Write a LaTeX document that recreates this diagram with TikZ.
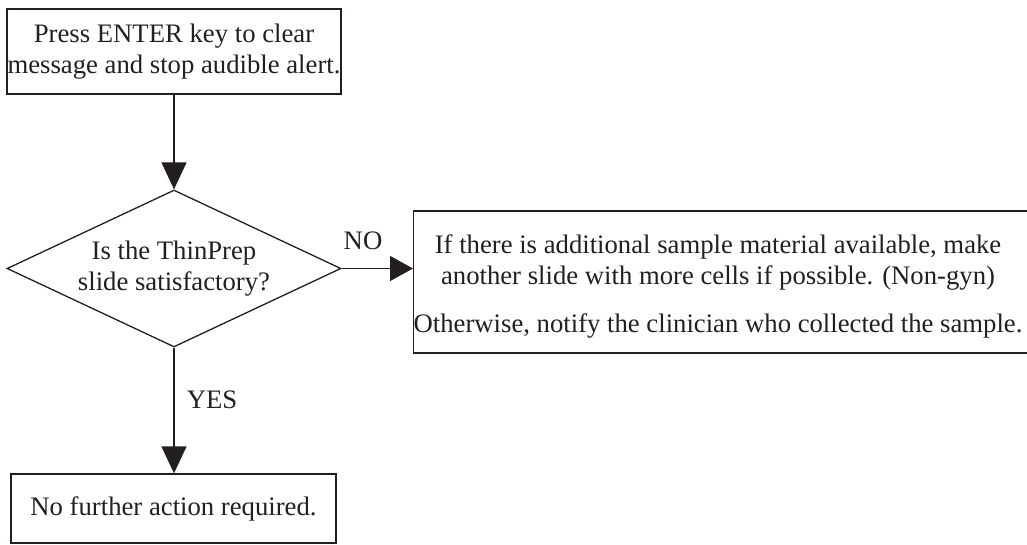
\documentclass[tikz,border=0pt]{standalone}
\usepackage{fontspec}
\setmainfont{Liberation Serif}
\usetikzlibrary{shapes.geometric,arrows.meta}
\definecolor{ink}{HTML}{231F20}
\begin{document}
\begin{tikzpicture}[x=1pt,y=1pt,
  every node/.style={font=\fontsize{26.7}{31}\selectfont, text=ink},
  box/.style={draw=ink, line width=1.3pt, rectangle, inner sep=0pt, align=center},
  decide/.style={draw=ink, line width=1.3pt, diamond, aspect=2.13, inner sep=0pt, align=center,
     minimum width=334pt, minimum height=157pt},
  vflow/.style={draw=ink, line width=1.3pt, -{Triangle[length=27pt,width=25pt]}},
  hflow/.style={draw=ink, line width=1.3pt, -{Triangle[length=23pt,width=25pt]}},
  lbl/.style={inner sep=0pt}
]
\useasboundingbox (0,0) rectangle (1027,544);
\node[box, minimum width=334pt, minimum height=85pt] (b1) at (174,492.5)
  {Press ENTER key to clear\\message and stop audible alert.};
\node[decide] (d) at (174,275.5) {Is the ThinPrep\\slide satisfactory?};
\node[box, minimum width=640pt, minimum height=142pt, anchor=west] (b2) at (413,262) {};
\node[lbl, align=center] (b2t) at (718,257.5)
  {If there is additional sample material available, make\\another slide with more cells if possible. (Non-gyn)\\[17pt]Otherwise, notify the clinician who collected the sample.};
\node[box, minimum width=325pt, minimum height=69pt] (b3) at (173.5,35.5) {No further action required.};
\draw[vflow] (b1.south) -- (d.north);
\draw[hflow] (d.east) -- (d.east -| b2.west);
\draw[vflow] (d.south) -- (d.south |- b3.north);
\node[lbl] (no) at (363,303) {NO};
\node[lbl] (yes) at (212,144) {YES};
\end{tikzpicture}
\end{document}
